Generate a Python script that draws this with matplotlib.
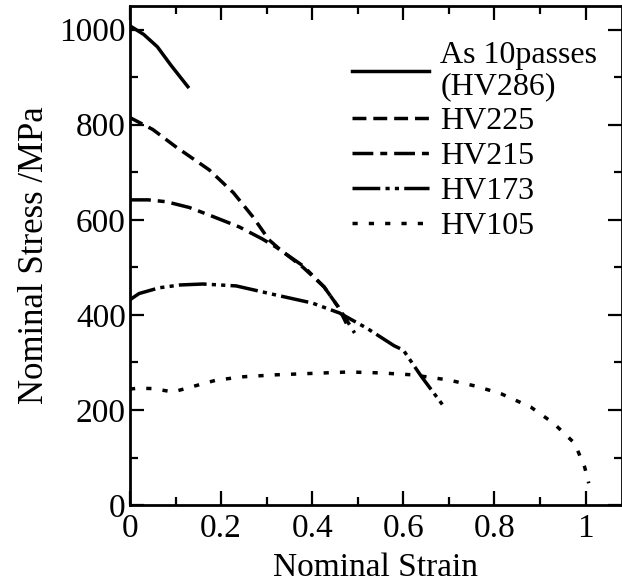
import matplotlib
matplotlib.use("Agg")
import matplotlib.pyplot as plt
from matplotlib.ticker import MultipleLocator, FuncFormatter

plt.rcParams['font.family'] = ['Liberation Serif', 'DejaVu Serif']

# Data
hv286_x = [0.0, 0.03, 0.06, 0.09, 0.127]
hv286_y = [1008, 990, 964, 925, 880]

hv225_x = [0.0, 0.05, 0.10, 0.174, 0.227, 0.27, 0.305, 0.33, 0.38, 0.426, 0.457, 0.475, 0.493]
hv225_y = [815, 790, 754, 705, 657, 606, 558, 537, 500, 459, 417, 390, 362]

hv215_x = [0.0, 0.04, 0.08, 0.13, 0.174, 0.24, 0.29, 0.32, 0.38, 0.426, 0.457, 0.475]
hv215_y = [642, 642, 638, 626, 610, 585, 560, 543, 503, 459, 417, 382]

hv173_x = [0.0, 0.02, 0.064, 0.11, 0.16, 0.233, 0.32, 0.40, 0.46, 0.52, 0.58, 0.60, 0.64, 0.69]
hv173_y = [432, 445, 457, 463, 465, 461, 442, 425, 404, 372, 335, 326, 270, 206]

hv105_x = [0.0, 0.018, 0.05, 0.095, 0.14, 0.19, 0.25, 0.32, 0.40, 0.48, 0.55, 0.62, 0.70, 0.76,
           0.815, 0.88, 0.93, 0.976, 0.998, 1.007]
hv105_y = [244, 246, 245, 238, 250, 263, 270, 274, 277, 280, 278, 274, 263, 250,
           234, 206, 172, 130, 80, 46]

labels = ["As 10passes\n(HV286)", "HV225", "HV215", "HV173", "HV105"]

fig = plt.figure(figsize=(6.22, 5.88), dpi=100)
ax = fig.add_axes([0.209, 0.141, 0.791, 0.849])

lw = 2.5
ax.plot(hv286_x, hv286_y, color='black', lw=lw, linestyle='-', label=labels[0])
ax.plot(hv225_x, hv225_y, color='black', lw=lw, linestyle=(0, (4, 2)), label=labels[1])
ax.plot(hv215_x, hv215_y, color='black', lw=lw, linestyle=(0, (6, 2, 2, 2)), label=labels[2])
ax.plot(hv173_x, hv173_y, color='black', lw=lw, linestyle=(0, (8, 1.5, 1.2, 1.5, 1.2, 1.5)), label=labels[3])
ax.plot(hv105_x, hv105_y, color='black', lw=lw, linestyle=(0, (1.5, 3.2)), label=labels[4])

ax.set_xlim(0, 1.08)
ax.set_ylim(0, 1050)
ax.xaxis.set_major_locator(MultipleLocator(0.2))
ax.xaxis.set_minor_locator(MultipleLocator(0.1))
ax.yaxis.set_major_locator(MultipleLocator(200))
ax.yaxis.set_minor_locator(MultipleLocator(100))
ax.xaxis.set_major_formatter(FuncFormatter(lambda v, p: f"{v:g}"))
ax.tick_params(which='both', direction='in', top=True, right=True, width=1.6,
               labelsize=24)
ax.tick_params(axis='x', pad=6)
ax.tick_params(axis='y', pad=3)
ax.tick_params(which='major', length=10)
ax.tick_params(which='minor', length=6)
for s in ax.spines.values():
    s.set_linewidth(2)

ax.set_xlabel("Nominal Strain", fontsize=24, labelpad=6)
ax.set_ylabel("Nominal Stress /MPa", fontsize=25, labelpad=6)

leg = ax.legend(loc='upper left', bbox_to_anchor=(0.40, 0.98), frameon=False, fontsize=23,
                handlelength=2.4, handletextpad=0.35, labelspacing=0.17, borderpad=0.3)
leg.get_texts()[0].set_linespacing(1.1)

fig.savefig("out.png", dpi=100)
